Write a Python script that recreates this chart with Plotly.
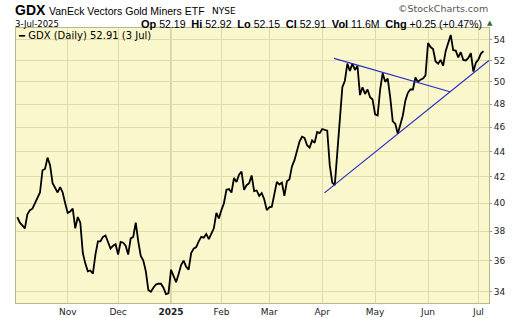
import numpy as np
import pandas as pd
import plotly.graph_objects as go

# ---------------- data ----------------
holidays = ["2024-11-28", "2024-12-25", "2025-01-01", "2025-01-09", "2025-01-20",
            "2025-02-17", "2025-04-18", "2025-05-26", "2025-06-19"]
dates = [d for d in pd.bdate_range("2024-10-04", "2025-07-03")
         if d.strftime("%Y-%m-%d") not in holidays]

close = [
    39.0, 38.6, 38.4, 38.2, 39.2, 39.5, 39.6, 40.0, 40.5, 40.8,      # 0-9
    42.5, 42.6, 43.5, 42.9, 41.5, 41.1, 40.8, 41.2, 40.8, 40.0,      # 10-19
    39.3, 39.4, 39.6, 38.2, 39.0, 38.6, 36.5, 35.8, 35.3, 35.35,     # 20-29
    35.15, 36.4, 37.3, 37.3, 37.6, 37.7, 37.2, 36.8, 37.0, 37.1,     # 30-39
    36.4, 37.25, 37.2, 37.0, 36.4, 37.5, 37.6, 38.6, 37.3, 36.3,     # 40-49
    36.0, 35.3, 34.1, 34.0, 34.25, 34.45, 34.5, 34.5, 34.25, 33.85,  # 50-59
    33.9, 35.4, 35.0, 34.6, 35.1, 35.7, 36.0, 35.6, 35.4, 36.5,      # 60-69
    36.8, 36.9, 37.3, 37.6, 37.55, 37.8, 37.45, 37.8, 38.2, 39.3,    # 70-79
    38.9, 39.5, 40.0, 41.0, 41.05, 40.8, 41.9, 41.6, 42.15, 42.4,    # 80-89
    41.0, 41.35, 41.5, 42.1, 40.9, 40.95, 40.55, 40.75, 40.3, 39.5,  # 90-99
    39.7, 39.75, 40.55, 41.6, 41.4, 41.55, 40.55, 41.65, 41.8, 42.8, # 100-109
    43.3, 44.0, 44.8, 45.2, 45.1, 44.5, 44.3, 44.9, 44.7, 45.6,      # 110-119
    45.5, 45.85, 45.75, 45.7, 42.9, 41.55, 41.35, 44.1, 46.9, 49.5,  # 120-129
    50.1, 51.7, 51.0, 51.7, 51.1, 51.5, 48.8, 49.5, 48.9, 49.3,      # 130-139
    48.6, 48.4, 47.1, 47.0, 49.3, 50.8, 50.0, 50.3, 48.6, 46.5,      # 140-149
    46.3, 45.45, 46.2, 47.0, 48.3, 49.0, 49.3, 49.3, 50.4, 50.0,     # 150-159
    50.2, 50.3, 50.6, 53.7, 53.3, 53.1, 51.9, 51.7, 52.05, 51.5,     # 160-169
    52.9, 53.7, 54.5, 53.0, 52.95, 52.3, 52.8, 52.05, 52.0, 52.25,   # 170-179
    52.7, 50.95, 51.8, 52.1, 52.66, 52.91,                           # 180-185
]
assert len(close) == len(dates)

month_labels = ["Nov", "Dec", "<b>2025</b>", "Feb", "Mar", "Apr", "May", "Jun", "Jul"]
y_ticks = [34, 36, 38, 40, 42, 44, 46, 48, 50, 52, 54]

# trend lines (trading-day position, price)
upper_x = [125.7, 171.7]
upper_y = [52.2, 49.1]
lower_x = [121.9, 187.2]
lower_y = [40.77, 52.0]

quote = dict(op=52.19, hi=52.92, lo=52.15, vol="11.6M")

# ---------------- figure ----------------
W, H = 520, 318
ML, MR, MT, MB = 16, 31, 28, 15
PW, PH = W - ML - MR, H - MT - MB

xpos = list(range(len(dates)))
month_pos = []
for i in range(1, len(dates)):
    if dates[i].month != dates[i - 1].month:
        month_pos.append(i)

fig = go.Figure()
fig.add_trace(go.Scatter(x=xpos, y=close, mode="lines",
                         line=dict(color="#000000", width=1.8), hoverinfo="skip"))
fig.add_trace(go.Scatter(x=upper_x, y=upper_y, mode="lines",
                         line=dict(color="#2B2BC8", width=1.2), hoverinfo="skip"))
fig.add_trace(go.Scatter(x=lower_x, y=lower_y, mode="lines",
                         line=dict(color="#2B2BC8", width=1.2), hoverinfo="skip"))

# darker year gridline
year_pos = month_pos[2]
fig.add_shape(type="line", x0=year_pos, x1=year_pos, y0=0, y1=1, yref="paper", xref="x",
              line=dict(color="#B5B388", width=1), layer="below")

grid = "#DEDCAB"
fig.update_layout(
    width=W, height=H, autosize=False,
    margin=dict(l=ML, r=MR, t=MT, b=MB, pad=0, autoexpand=False),
    paper_bgcolor="#FFFFFF", plot_bgcolor="#F9F7CB",
    showlegend=False,
    xaxis=dict(range=[-0.52, 187.2], tickmode="array", tickvals=month_pos,
               ticktext=month_labels, showgrid=True, gridcolor=grid, gridwidth=1,
               zeroline=False, showline=True, linecolor="#B9B78C", linewidth=1, mirror=True,
               ticks="", automargin=False,
               tickfont=dict(family="DejaVu Sans", size=9, color="#222222")),
    yaxis=dict(type="log", range=[np.log10(33.3), np.log10(55.2)], side="right",
               tickmode="array", tickvals=y_ticks, ticktext=[str(v) for v in y_ticks],
               showgrid=True, gridcolor=grid, gridwidth=1, zeroline=False,
               showline=True, linecolor="#B9B78C", linewidth=1, mirror=True,
               ticks="outside", ticklen=2, tickcolor="#999999", automargin=False,
               tickfont=dict(family="DejaVu Sans", size=9, color="#222222")),
)


def px(x):
    return (x - ML) / PW


def py(y):
    return (H - MB - y) / PH


def ann(text, x, y, size, family="Liberation Sans", color="#000000", xanchor="left"):
    fig.add_annotation(text=text, x=px(x), y=py(y), xref="paper", yref="paper",
                       xanchor=xanchor, yanchor="middle", showarrow=False, borderpad=0,
                       font=dict(family=family, size=size, color=color))


ann("<b>GDX</b>", 14, 10.5, 14)
ann("VanEck Vectors Gold Miners ETF", 48, 11, 10.5)
ann("NYSE", 211, 11.5, 9, family="DejaVu Sans")
ann("©StockCharts.com", 489, 8.5, 9.5, family="DejaVu Sans", color="#555555", xanchor="right")
ann("3-Jul-2025", 14, 24, 8.5, family="DejaVu Sans")

chg = close[-1] - close[-2]
pct = chg / close[-2] * 100
B = '<span style="font-size:11px"><b>%s</b></span>'
stats = (f"{B % 'Op'} {quote['op']:.2f}  {B % 'Hi'} {quote['hi']:.2f}  "
         f"{B % 'Lo'} {quote['lo']:.2f}  {B % 'Cl'} {close[-1]:.2f}  "
         f"{B % 'Vol'} {quote['vol']}  {B % 'Chg'} {chg:+.2f} ({pct:+.2f}%)")
ann(stats, 483, 23.5, 10.5, xanchor="right")
ann("▲", 486, 23, 7, family="DejaVu Sans", color="#2F6B2F")

ann(f"<b>━</b> GDX (Daily) {close[-1]:.2f} (3 Jul)", 17, 36, 10, family="DejaVu Sans")

fig.write_html("out.html")
